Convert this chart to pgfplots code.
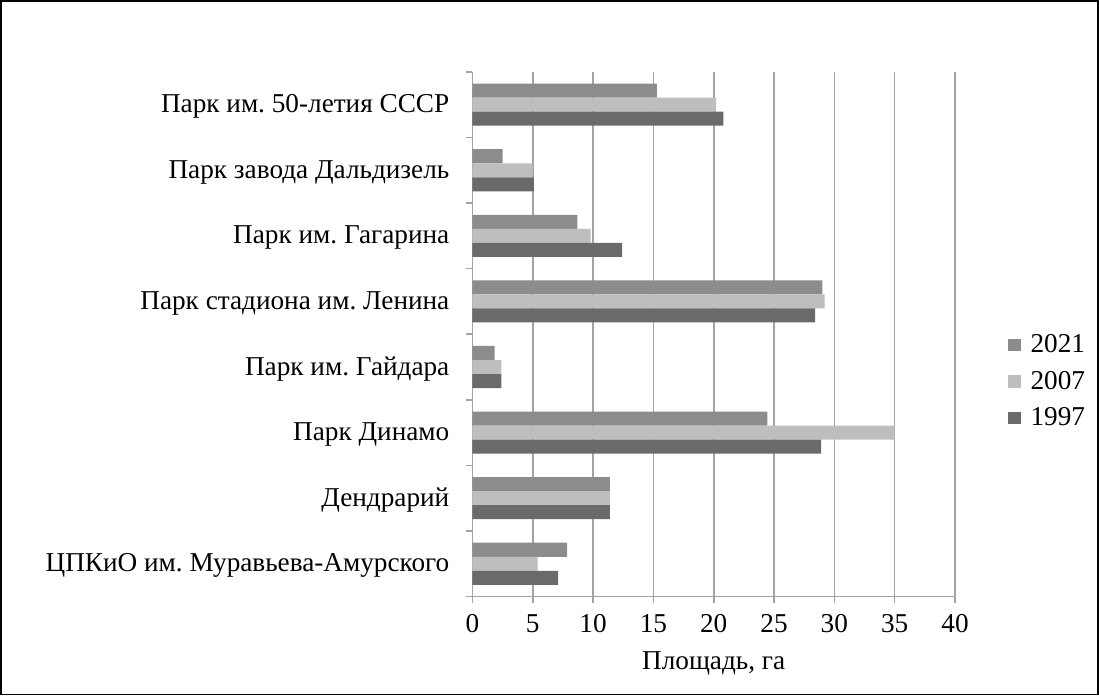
\documentclass[border=0pt]{standalone}
\usepackage{fontspec}
\setmainfont{Liberation Serif}
\usepackage{pgfplots}
\pgfplotsset{compat=1.18}
\definecolor{c21}{HTML}{8C8C8C}
\definecolor{c07}{HTML}{BEBEBE}
\definecolor{c97}{HTML}{6A6A6A}
\definecolor{gridc}{HTML}{A3A3A3}
\frenchspacing
\begin{document}
\begin{tikzpicture}
\begin{axis}[
  scale only axis, width=241pt, height=262pt,
  xmin=0, xmax=40, ymin=-0.5, ymax=7.5,
  xbar, bar width=7pt,
  axis x line*=bottom, axis y line*=left,
  axis line style={gridc, line width=0.8pt},
  xtick={0,5,...,40},
  ytick={0,...,7},
  yticklabels={ЦПКиО им. Муравьева-Амурского, Дендрарий, Парк Динамо, Парк им. Гайдара, Парк стадиона им. Ленина, Парк им. Гагарина, Парк завода Дальдизель, Парк им. 50-летия СССР},
  minor ytick={-0.5,0.5,...,7.5},
  tick align=outside,
  major tick length=3pt, minor tick length=3pt,
  major y tick style={draw=none},
  minor y tick style={gridc, line width=0.8pt},
  major x tick style={gridc, line width=0.8pt},
  xmajorgrids,
  major grid style={gridc, line width=0.8pt},
  /pgf/number format/assume math mode=true,
  ticklabel style={font=\fontsize{13.6}{16}\selectfont, black},
  yticklabel style={xshift=-5pt, yshift=-1pt},
  xticklabel style={yshift=-2.5pt},
  xlabel={Площадь, га},
  x label style={font=\fontsize{13.6}{16}\selectfont, at={(axis description cs:0.5,0)}, anchor=center, yshift=-33.5pt},
  legend style={at={(rel axis cs:1.11,0.41)}, anchor=west, draw=none, fill=none, font=\fontsize{13.6}{16}\selectfont, row sep=3.8pt, inner sep=0pt},
  legend cell align=left,
]
\addplot[fill=c21, draw=none, bar shift=7pt, legend image code/.code={\fill[c21] (0pt,-3.1pt) rectangle (6.2pt,3.1pt); \path (9pt,0pt);}] coordinates {
 (7.85,0) (11.4,1) (24.45,2) (1.85,3) (29.0,4) (8.7,5) (2.5,6) (15.3,7)};
\addplot[fill=c07, draw=none, bar shift=0pt, legend image code/.code={\fill[c07] (0pt,-3.1pt) rectangle (6.2pt,3.1pt); \path (9pt,0pt);}] coordinates {
 (5.4,0) (11.4,1) (35.0,2) (2.4,3) (29.2,4) (9.8,5) (5.0,6) (20.2,7)};
\addplot[fill=c97, draw=none, bar shift=-7pt, legend image code/.code={\fill[c97] (0pt,-3.1pt) rectangle (6.2pt,3.1pt); \path (9pt,0pt);}] coordinates {
 (7.1,0) (11.4,1) (28.9,2) (2.4,3) (28.4,4) (12.4,5) (5.1,6) (20.8,7)};
\legend{2021,2007,1997}
\end{axis}
\draw[black, line width=0.8pt] (-235.5pt,-49pt) rectangle (312.5pt,297.5pt);
\end{tikzpicture}
\end{document}
